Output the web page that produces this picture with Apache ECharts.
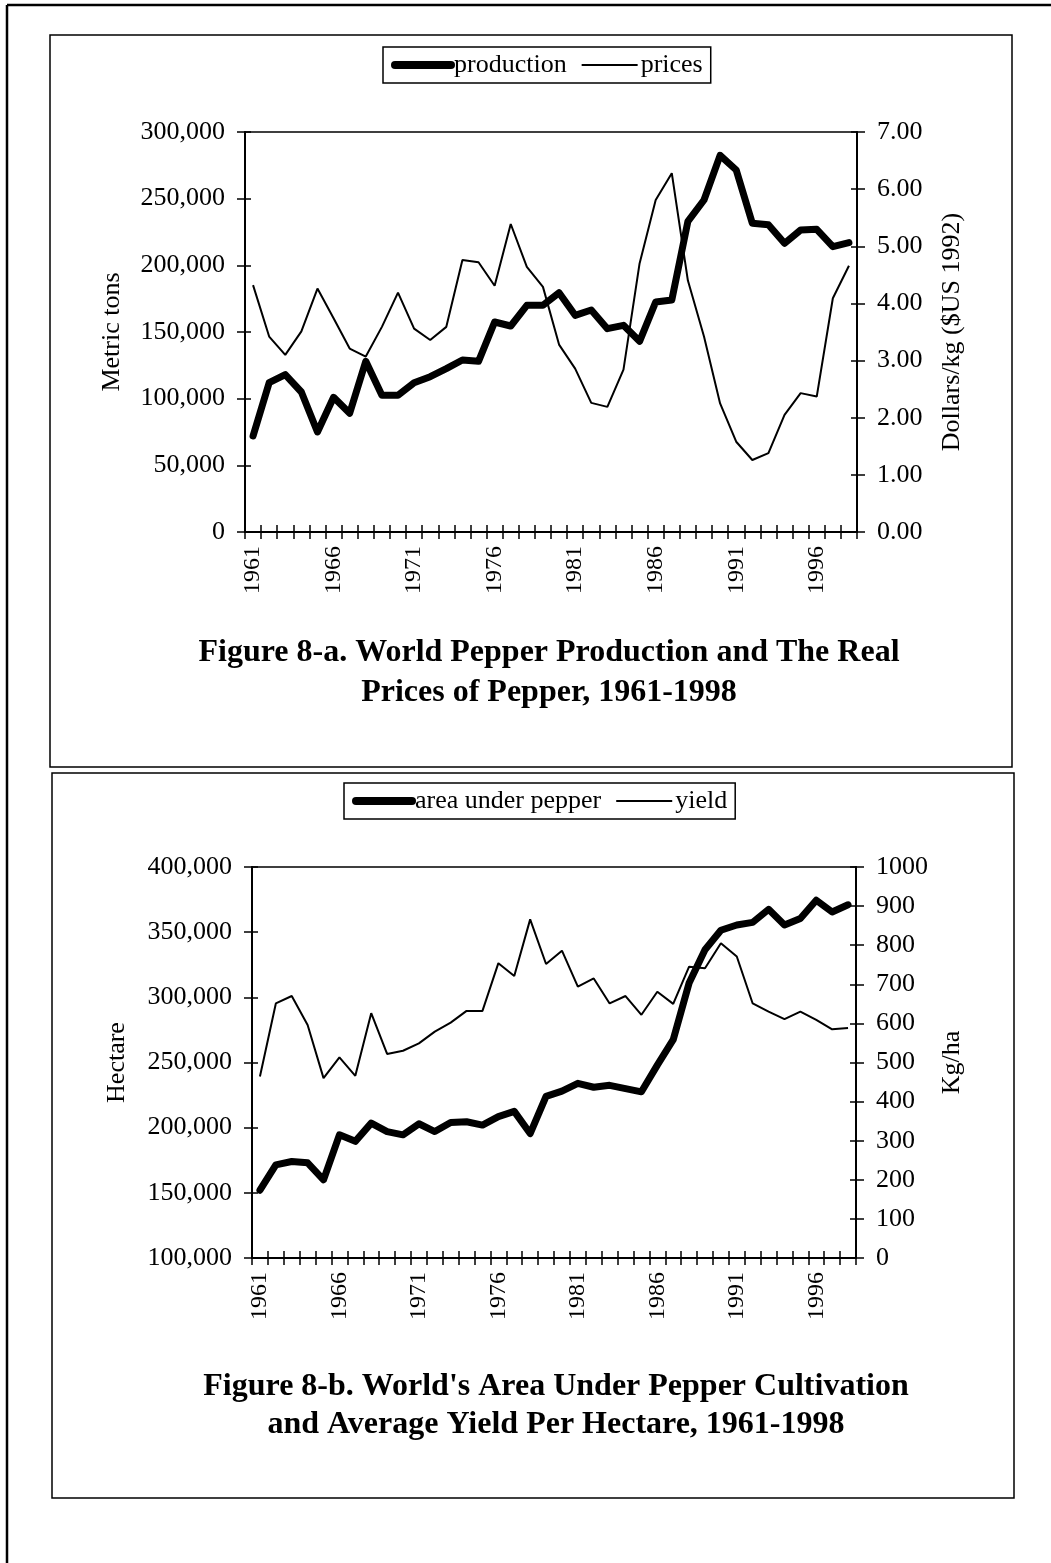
<!DOCTYPE html>
<html>
<head>
<meta charset="utf-8">
<script src="https://cdn.jsdelivr.net/npm/echarts@6/dist/echarts.min.js"></script>
<style>
html,body{margin:0;padding:0;background:#fff;}
#c{width:1051px;height:1563px;}
</style>
</head>
<body>
<div id="c"></div>
<script>
const years = ['1961','1962','1963','1964','1965','1966','1967','1968','1969','1970',
  '1971','1972','1973','1974','1975','1976','1977','1978','1979','1980',
  '1981','1982','1983','1984','1985','1986','1987','1988','1989','1990',
  '1991','1992','1993','1994','1995','1996','1997','1998'];
const production = [72000,112000,118000,105000,75000,101000,89000,128000,102500,102500,
  112000,116500,122500,129000,128000,157500,154500,170000,170000,179500,
  162500,166500,152500,155000,143000,172500,174000,233000,249000,282500,
  271500,231500,230500,216500,226500,227000,214000,217000];
const prices = [4.32,3.42,3.10,3.51,4.26,3.74,3.21,3.07,3.59,4.19,
  3.56,3.36,3.59,4.76,4.72,4.31,5.39,4.64,4.29,3.28,
  2.86,2.26,2.19,2.84,4.70,5.81,6.28,4.40,3.42,2.25,
  1.58,1.26,1.38,2.05,2.43,2.37,4.09,4.66];
const area = [152000,171500,174000,173000,160000,194500,189500,203500,197000,194500,
  203000,197000,204000,204500,202000,208500,212500,195500,224000,228000,
  234000,231000,232500,230000,227500,248000,267500,311000,336500,351500,
  355500,357500,367500,355500,360500,374500,365500,371000];
const yieldKg = [464,651,670,596,460,513,466,626,522,530,
  549,579,602,632,632,754,721,866,752,786,
  694,715,651,670,622,681,650,745,741,805,
  771,651,630,611,630,609,585,588];

const FONT = "'Liberation Serif','Times New Roman',serif";
const chart = echarts.init(document.getElementById('c'));

function xAxes(grid){
  return [
    {type:'category', gridIndex:grid, data:years, position:'bottom', boundaryGap:true,
     axisLine:{lineStyle:{color:'#000',width:2}},
     axisTick:{show:true, interval:0, length:7, lineStyle:{color:'#000',width:1.5}},
     axisLabel:{interval:4, rotate:90, margin:14, color:'#000', fontFamily:FONT, fontSize:24},
     splitLine:{show:false}},
    {type:'category', gridIndex:grid, data:years, position:'bottom', boundaryGap:true,
     axisLine:{show:false}, axisLabel:{show:false},
     axisTick:{show:true, inside:true, interval:0, length:7, lineStyle:{color:'#000',width:1.5}},
     splitLine:{show:false}}
  ];
}
function yAxis(grid, pos, min, max, interval, fmt, name, gap, inside){
  return {type:'value', gridIndex:grid, position:pos, min:min, max:max, interval:interval,
    name: inside ? '' : name, nameLocation:'middle', nameGap:gap, nameRotate:90,
    nameTextStyle:{color:'#000', fontFamily:FONT, fontSize:26},
    axisLine:{show:!inside, lineStyle:{color:'#000',width:2}},
    axisTick:{show:true, inside:!!inside, length:inside?6:8, lineStyle:{color:'#000',width:1.5}},
    axisLabel:{show:!inside, margin:20, color:'#000', fontFamily:FONT, fontSize:26, formatter:fmt},
    splitLine:{show:false}};
}
const commaFmt = v => v.toLocaleString('en-US');
const dec2 = v => v.toFixed(2);
const intFmt = v => String(v);

const legendCommon = {
  orient:'horizontal', borderColor:'#000', borderWidth:1.5, padding:[5,8],
  itemWidth:56, itemHeight:14, itemGap:14,
  textStyle:{color:'#000', fontFamily:FONT, fontSize:26, padding:[0,0,0,-2]},
  itemStyle:{opacity:0}, selectedMode:false
};

const option = {
  backgroundColor:'#fff',
  animation:false,
  grid:[
    {left:245, top:132, width:612, height:400, show:true, borderColor:'#000', borderWidth:1.5, containLabel:false},
    {left:252, top:867, width:604, height:391, show:true, borderColor:'#000', borderWidth:1.5, containLabel:false}
  ],
  legend:[
    Object.assign({}, legendCommon, {left:383, top:47,
      data:[{name:'production', lineStyle:{width:8, color:'#000'}}, {name:'prices', lineStyle:{width:2, color:'#000'}}]}),
    Object.assign({}, legendCommon, {left:344, top:783,
      data:[{name:'area under pepper', lineStyle:{width:8, color:'#000'}}, {name:'yield', lineStyle:{width:2, color:'#000'}}]})
  ],
  xAxis: xAxes(0).concat(xAxes(1)),
  yAxis:[
    yAxis(0,'left',0,300000,50000,commaFmt,'Metric tons',120,false),
    yAxis(0,'right',0,7,1,dec2,'Dollars/kg ($US 1992)',82,false),
    yAxis(0,'left',0,300000,50000,commaFmt,'',0,true),
    yAxis(0,'right',0,7,1,dec2,'',0,true),
    yAxis(1,'left',100000,400000,50000,commaFmt,'Hectare',122,false),
    yAxis(1,'right',0,1000,100,intFmt,'Kg/ha',80,false),
    yAxis(1,'left',100000,400000,50000,commaFmt,'',0,true),
    yAxis(1,'right',0,1000,100,intFmt,'',0,true)
  ],
  series:[
    {name:'production', type:'line', xAxisIndex:0, yAxisIndex:0, data:production,
     symbol:'none', lineStyle:{color:'#000', width:7, join:'round', cap:'round'}, itemStyle:{color:'#000'}, z:3},
    {name:'prices', type:'line', xAxisIndex:0, yAxisIndex:1, data:prices,
     symbol:'none', lineStyle:{color:'#000', width:2}, itemStyle:{color:'#000'}, z:2},
    {name:'area under pepper', type:'line', xAxisIndex:2, yAxisIndex:4, data:area,
     symbol:'none', lineStyle:{color:'#000', width:7, join:'round', cap:'round'}, itemStyle:{color:'#000'}, z:3},
    {name:'yield', type:'line', xAxisIndex:2, yAxisIndex:5, data:yieldKg,
     symbol:'none', lineStyle:{color:'#000', width:2}, itemStyle:{color:'#000'}, z:2}
  ],
  graphic:[
    {type:'line', shape:{x1:7,y1:5,x2:7,y2:1563}, style:{stroke:'#000', lineWidth:2.5}},
    {type:'line', shape:{x1:7,y1:5,x2:1051,y2:5}, style:{stroke:'#000', lineWidth:2.5}},
    {type:'rect', shape:{x:50,y:35,width:962,height:732}, style:{fill:'none', stroke:'#000', lineWidth:1.5}},
    {type:'rect', shape:{x:52,y:773,width:962,height:725}, style:{fill:'none', stroke:'#000', lineWidth:1.5}},
    {type:'text', x:549, y:653, style:{text:'Figure 8-a. World Pepper Production and The Real', fill:'#000',
      font:"bold 32px "+FONT, textAlign:'center', textVerticalAlign:'middle'}},
    {type:'text', x:549, y:693, style:{text:'Prices of Pepper, 1961-1998', fill:'#000',
      font:"bold 32px "+FONT, textAlign:'center', textVerticalAlign:'middle'}},
    {type:'text', x:556, y:1387, style:{text:"Figure 8-b. World's Area Under Pepper Cultivation", fill:'#000',
      font:"bold 32px "+FONT, textAlign:'center', textVerticalAlign:'middle'}},
    {type:'text', x:556, y:1425, style:{text:'and Average Yield Per Hectare, 1961-1998', fill:'#000',
      font:"bold 32px "+FONT, textAlign:'center', textVerticalAlign:'middle'}}
  ]
};
chart.setOption(option);
</script>
</body>
</html>
